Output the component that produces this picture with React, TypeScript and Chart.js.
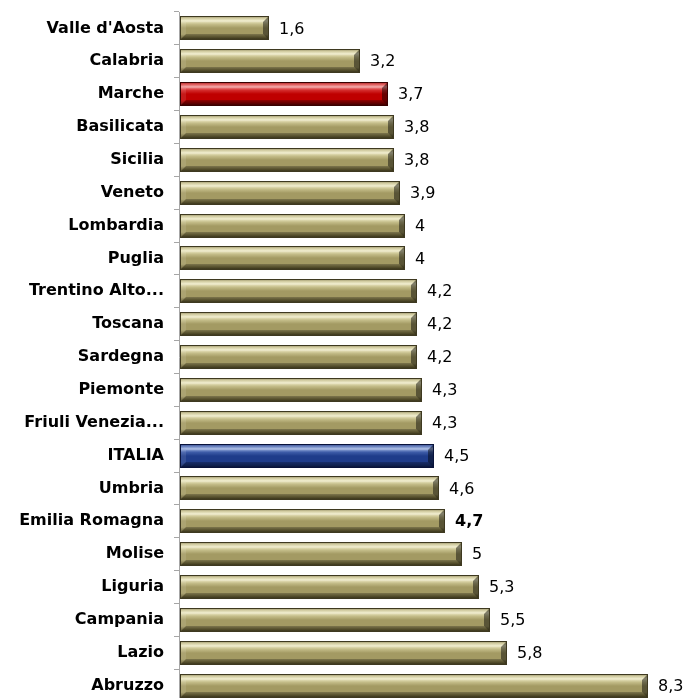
import React, { useEffect, useRef } from "react";
import { Chart, registerables } from "chart.js";
Chart.register(...registerables);

const categories = [
  "Valle d'Aosta", "Calabria", "Marche", "Basilicata", "Sicilia", "Veneto",
  "Lombardia", "Puglia", "Trentino Alto...", "Toscana", "Sardegna", "Piemonte",
  "Friuli Venezia...", "ITALIA", "Umbria", "Emilia Romagna", "Molise",
  "Liguria", "Campania", "Lazio", "Abruzzo",
];
const values = [
  1.6, 3.2, 3.7, 3.8, 3.8, 3.9, 4, 4, 4.2, 4.2, 4.2, 4.3, 4.3, 4.5, 4.6, 4.7,
  5, 5.3, 5.5, 5.8, 8.3,
];
const redCategories = ["Marche"];
const blueCategories = ["ITALIA"];
const boldValueCategories = ["Emilia Romagna"];

type Pal = { edge: string; dark: string; mid: string; light: string; hi: string };
const KHAKI: Pal = { edge: "#3e3920", dark: "#6a6236", mid: "#a39a63", light: "#c4bd89", hi: "#eeeac6" };
const RED: Pal = { edge: "#3a0000", dark: "#7a0000", mid: "#bf0000", light: "#d52e2e", hi: "#f29a9a" };
const BLUE: Pal = { edge: "#08123a", dark: "#142a66", mid: "#1f3c8a", light: "#3e5ca8", hi: "#9fb3e0" };

function palFor(cat: string): Pal {
  if (redCategories.includes(cat)) return RED;
  if (blueCategories.includes(cat)) return BLUE;
  return KHAKI;
}

const bevelPlugin = {
  id: "bevelBars",
  afterDatasetsDraw(chart: any) {
    const ctx = chart.ctx as CanvasRenderingContext2D;
    const meta = chart.getDatasetMeta(0);
    meta.data.forEach((el: any, i: number) => {
      const { x, y, base, height } = el.getProps(["x", "y", "base", "height"], true);
      const p = palFor(categories[i]);
      const x0 = Math.round(base) + 1;
      const x1 = Math.round(x);
      const yt = Math.round(y - height / 2);
      const yb = Math.round(y + height / 2);
      const h = yb - yt;
      const b = 6;
      ctx.save();
      const g = ctx.createLinearGradient(0, yt, 0, yb);
      g.addColorStop(0, p.dark);
      g.addColorStop(0.08, p.light);
      g.addColorStop(0.2, p.hi);
      g.addColorStop(0.34, p.light);
      g.addColorStop(0.5, p.mid);
      g.addColorStop(0.76, p.mid);
      g.addColorStop(0.9, p.dark);
      g.addColorStop(1, p.edge);
      ctx.fillStyle = g;
      ctx.fillRect(x0, yt, x1 - x0, h);
      // top bevel
      ctx.beginPath();
      ctx.moveTo(x0, yt);
      ctx.lineTo(x1, yt);
      ctx.lineTo(x1 - b, yt + b);
      ctx.lineTo(x0 + b, yt + b);
      ctx.closePath();
      ctx.fillStyle = "rgba(255,255,255,0.15)";
      ctx.fill();
      // bottom bevel
      ctx.beginPath();
      ctx.moveTo(x0, yb);
      ctx.lineTo(x1, yb);
      ctx.lineTo(x1 - b, yb - b);
      ctx.lineTo(x0 + b, yb - b);
      ctx.closePath();
      ctx.fillStyle = "rgba(0,0,0,0.25)";
      ctx.fill();
      // left bevel
      ctx.beginPath();
      ctx.moveTo(x0, yt);
      ctx.lineTo(x0 + b, yt + b);
      ctx.lineTo(x0 + b, yb - b);
      ctx.lineTo(x0, yb);
      ctx.closePath();
      ctx.fillStyle = "rgba(255,255,255,0.1)";
      ctx.fill();
      // right bevel
      ctx.beginPath();
      ctx.moveTo(x1, yt);
      ctx.lineTo(x1 - b, yt + b);
      ctx.lineTo(x1 - b, yb - b);
      ctx.lineTo(x1, yb);
      ctx.closePath();
      ctx.fillStyle = "rgba(0,0,0,0.45)";
      ctx.fill();
      ctx.strokeStyle = p.edge;
      ctx.lineWidth = 1;
      ctx.strokeRect(x0 + 0.5, yt + 0.5, x1 - x0 - 1, h - 1);
      ctx.restore();

      const cat = categories[i];
      const bold = boldValueCategories.includes(cat);
      ctx.save();
      ctx.fillStyle = "#000";
      ctx.font = `${bold ? "bold " : ""}16px "DejaVu Sans"`;
      ctx.textAlign = "left";
      ctx.textBaseline = "middle";
      ctx.fillText(String(values[i]).replace(".", ","), x1 + 10, y + 1);
      ctx.restore();
    });
  },
};

export default function App() {
  const ref = useRef<HTMLCanvasElement>(null);
  useEffect(() => {
    if (!ref.current) return;
    const chart = new Chart(ref.current, {
      type: "bar",
      data: {
        labels: categories,
        datasets: [
          {
            data: values,
            backgroundColor: "rgba(0,0,0,0)",
            borderWidth: 0,
            barThickness: 24,
          },
        ],
      },
      options: {
        indexAxis: "y",
        animation: false,
        responsive: false,
        maintainAspectRatio: false,
        layout: { padding: { top: 12, bottom: 8, left: 0, right: 0 } },
        plugins: {
          legend: { display: false },
          tooltip: { enabled: false },
        },
        scales: {
          x: { display: false, min: 0, max: 9 },
          y: {
            afterFit: (s: any) => {
              s.width = 179;
              s.paddingTop = 0;
              s.paddingBottom = 0;
            },
            border: { color: "#a6a6a6", width: 1 },
            grid: {
              offset: true,
              drawOnChartArea: false,
              drawTicks: true,
              tickLength: 5,
              color: "#a6a6a6",
            },
            ticks: {
              padding: 10,
              color: "#000",
              font: { family: "DejaVu Sans", size: 16, weight: "bold" },
              autoSkip: false,
            },
          },
        },
      },
      plugins: [bevelPlugin],
    });
    return () => chart.destroy();
  }, []);
  return (
    <div style={{ position: "absolute", left: 0, top: 0, width: 688, height: 710 }}>
      <canvas ref={ref} width={688} height={710} style={{ width: 688, height: 710 }} />
    </div>
  );
}
